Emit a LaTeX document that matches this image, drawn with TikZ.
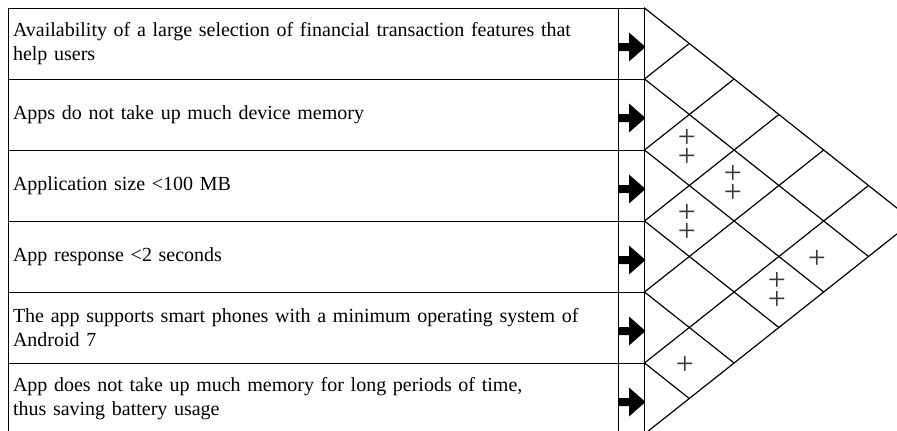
\documentclass[tikz,border=0pt]{standalone}
\usepackage{fontspec}
\setmainfont{Liberation Serif}
\begin{document}
\begin{tikzpicture}[x=1pt,y=-1pt,
  rowbox/.style={draw, line width=1pt, outer sep=0pt, anchor=north west,
    minimum width=610.5pt, minimum height=71pt, text width=600.5pt,
    inner xsep=5pt, inner ysep=0pt, align=left,
    font=\fontsize{20}{24.5}\selectfont},
  arrowcell/.style={draw, line width=1pt, outer sep=0pt, anchor=north west,
    minimum width=26pt, minimum height=71pt, inner sep=0pt},
  gridline/.style={line width=1.2pt, line cap=round},
  plusmark/.style={font=\fontsize{32}{19}\selectfont, text=black!78,
    inner sep=0pt, align=center},
  pointer/.style={fill=black}]

\useasboundingbox (0,0) rectangle (897,431);
\clip (0,0) rectangle (897,431);

% requirement rows
\node[rowbox] (r0) at (8,8) {Availability of a large selection of financial transaction features that\\help users};
\node[rowbox] (r1) at (r0.south west) {Apps do not take up much device memory};
\node[rowbox] (r2) at (r1.south west) {Application size <100 MB};
\node[rowbox] (r3) at (r2.south west) {App response <2 seconds};
\node[rowbox] (r4) at (r3.south west) {The app supports smart phones with a minimum operating system of\\Android 7};
\node[rowbox] (r5) at (r4.south west) {App does not take up much memory for long periods of time,\\thus saving battery usage};

% arrow column
\foreach \k in {0,...,5}{
  \node[arrowcell] (a\k) at (r\k.north east) {};
  \coordinate (p\k) at ([yshift=-3.5pt]a\k.west);
  \fill[pointer] (p\k) ++(0,-4) -- ++(10.5,0) -- ++(0,-10.5) -- ++(16.5,14.5)
    -- ++(-16.5,14.5) -- ++(0,-10.5) -- ++(-10.5,0) -- cycle;
}

% left corners of the correlation roof
\foreach \k in {0,...,5}{ \coordinate (L\k) at (a\k.north east); }
\coordinate (L6) at (a5.south east);

% correlation roof grid
\foreach \k in {0,...,6}{
  \draw[gridline] (L\k) -- ++({(6-\k)*44.8},{(6-\k)*35.5});
  \draw[gridline] (L\k) -- ++({\k*44.8},{-\k*35.5});
}

% correlation marks
\node[plusmark] (m12) at (687,147.5) {+\\+};
\node[plusmark] (m13) at (733,184) {+\\+};
\node[plusmark] (m23) at (687,222.5) {+\\+};
\node[plusmark] (m15) at (817,259) {+};
\node[plusmark] (m25) at (777,291) {+\\+};
\node[plusmark] (m45) at (685,365) {+};
\end{tikzpicture}
\end{document}
